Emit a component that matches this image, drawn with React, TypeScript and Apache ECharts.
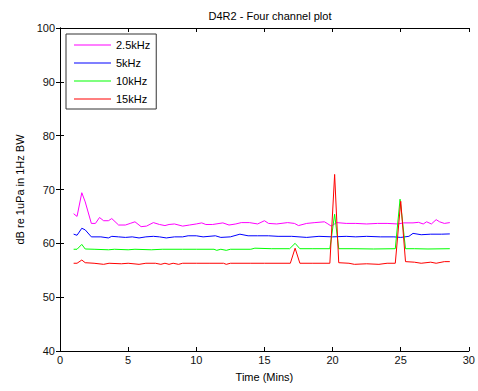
import React, { useEffect, useRef } from "react";
import * as echarts from "echarts";

const titleText = "D4R2 - Four channel plot";
const xName = "Time (Mins)";
const yName = "dB re 1uPa in 1Hz BW";
const seriesNames = ["2.5kHz", "5kHz", "10kHz", "15kHz"];
const seriesColors = ["#ff00ff", "#0000ff", "#00ff00", "#ff0000"];

const ch2_5k: [number, number][] = [
  [1.0, 65.5], [1.25, 65.0], [1.6, 69.4], [1.85, 67.7], [2.3, 63.7], [2.6, 63.7], [2.9, 64.8], [3.2, 64.2],
  [3.55, 64.2], [3.8, 64.6], [4.3, 63.4], [4.8, 63.4], [5.15, 63.7], [5.5, 64.0], [5.95, 63.1], [6.35, 63.2],
  [6.85, 63.85], [7.3, 63.5], [7.7, 63.3], [8.0, 63.5], [8.4, 63.6], [9.0, 63.2], [9.5, 63.4], [10.0, 63.6],
  [10.4, 63.8], [10.7, 63.5], [11.2, 63.5], [11.95, 63.8], [12.4, 63.4], [12.9, 63.6], [13.3, 63.85], [13.9, 63.85],
  [14.5, 63.6], [15.0, 64.2], [15.3, 63.7], [15.9, 63.6], [16.7, 63.85], [17.2, 63.7], [17.5, 63.3], [18.1, 63.7],
  [18.7, 63.85], [19.4, 64.0], [19.6, 63.7], [19.9, 63.2], [20.3, 63.85], [21.0, 63.7], [21.7, 63.7], [22.5, 63.6],
  [23.3, 63.7], [24.0, 63.7], [24.8, 63.6], [25.2, 63.8], [25.9, 63.8], [26.3, 63.9], [26.65, 63.6], [26.9, 64.0],
  [27.25, 63.6], [27.6, 64.4], [27.85, 64.0], [28.2, 63.7], [28.6, 63.85],
];

const ch5k: [number, number][] = [
  [1.0, 61.7], [1.25, 61.5], [1.6, 62.8], [1.85, 62.5], [2.3, 61.2], [3.0, 61.2], [3.55, 61.0], [3.8, 61.3],
  [4.3, 61.2], [4.8, 61.1], [5.3, 61.2], [5.8, 61.0], [6.3, 61.2], [6.85, 61.3], [7.3, 61.2], [7.8, 61.0],
  [8.4, 61.2], [9.0, 61.2], [9.4, 61.4], [10.0, 61.4], [10.5, 61.2], [11.4, 61.4], [11.8, 61.1], [12.5, 61.2],
  [13.2, 61.7], [13.8, 61.4], [14.5, 61.4], [15.3, 61.4], [16.0, 61.3], [17.0, 61.3], [18.1, 61.1], [19.0, 61.3],
  [20.0, 61.2], [21.0, 61.3], [21.7, 61.2], [22.5, 61.3], [23.5, 61.2], [24.5, 61.2], [25.0, 61.1], [25.6, 61.3],
  [25.9, 61.85], [26.5, 61.6], [27.2, 61.7], [28.0, 61.7], [28.6, 61.75],
];

const ch10k: [number, number][] = [
  [1.0, 58.9], [1.25, 58.9], [1.6, 59.8], [1.85, 58.95], [2.5, 58.9], [3.56, 58.8], [4.0, 58.9], [5.0, 58.8],
  [5.5, 58.9], [6.7, 58.8], [7.5, 58.9], [9.0, 58.9], [10.0, 58.9], [11.3, 58.9], [11.5, 58.7], [11.8, 58.9],
  [12.2, 58.7], [12.5, 58.9], [14.0, 58.9], [14.3, 59.1], [15.5, 59.0], [16.85, 59.0], [17.25, 60.0], [17.6, 59.0],
  [18.5, 59.0], [19.8, 59.0], [20.15, 65.4], [20.45, 59.0], [21.5, 59.0], [23.0, 58.95], [24.6, 59.0], [24.95, 68.2],
  [25.35, 59.0], [26.0, 59.0], [27.0, 58.95], [28.6, 59.0],
];

const ch15k: [number, number][] = [
  [1.0, 56.3], [1.25, 56.3], [1.6, 56.9], [1.85, 56.4], [2.5, 56.3], [3.2, 56.1], [3.6, 56.3], [4.5, 56.2],
  [5.0, 56.3], [5.8, 56.1], [6.3, 56.3], [7.0, 56.3], [7.4, 56.1], [7.7, 56.3], [8.0, 56.1], [8.3, 56.3],
  [8.7, 56.1], [9.0, 56.3], [10.0, 56.3], [11.0, 56.3], [12.0, 56.3], [12.2, 56.1], [12.5, 56.3], [14.0, 56.3],
  [15.0, 56.3], [16.9, 56.3], [17.25, 59.1], [17.6, 56.3], [18.5, 56.3], [19.8, 56.3], [20.15, 72.8], [20.45, 56.4],
  [21.2, 56.3], [21.6, 56.1], [22.5, 56.2], [23.4, 56.1], [24.0, 56.3], [24.6, 56.3], [25.0, 67.8], [25.35, 56.6],
  [26.0, 56.5], [26.5, 56.3], [27.2, 56.5], [27.6, 56.3], [28.2, 56.6], [28.6, 56.6],
];

const seriesData = [ch2_5k, ch5k, ch10k, ch15k];

const FONT = "'Liberation Sans', Arial, Helvetica, sans-serif";

export default function App() {
  const ref = useRef<HTMLDivElement>(null);
  useEffect(() => {
    if (!ref.current) return;
    const chart = echarts.init(ref.current, undefined, { renderer: "svg" });
    const axisLine = { show: true, lineStyle: { color: "#000", width: 1 } };
    const axisTick = { show: true, inside: true, length: 4, lineStyle: { color: "#000", width: 1 } };
    const labelStyle = { color: "#111", fontSize: 11, fontFamily: FONT };
    chart.setOption({
      animation: false,
      backgroundColor: "#fff",
      title: {
        text: titleText,
        left: 265,
        textAlign: "center",
        top: 5,
        textStyle: { fontSize: 11, fontWeight: "normal", color: "#000", fontFamily: FONT },
      },
      grid: { left: 60, right: 8, top: 28, bottom: 40, containLabel: false },
      legend: {
        orient: "vertical",
        left: 66,
        top: 34,
        padding: [4, 6, 3, 8],
        itemGap: 4,
        itemWidth: 37,
        itemHeight: 1,
        icon: "rect",
        borderColor: "#333",
        borderWidth: 1,
        backgroundColor: "#fff",
        textStyle: { fontSize: 11, color: "#000", fontFamily: FONT, lineHeight: 14 },
        data: seriesNames,
      },
      xAxis: [
        {
          type: "value",
          min: 0,
          max: 30,
          interval: 5,
          position: "bottom",
          name: xName,
          nameLocation: "middle",
          nameGap: 20,
          nameTextStyle: { fontSize: 11, color: "#000", fontFamily: FONT },
          axisLine,
          axisTick,
          axisLabel: { ...labelStyle, margin: 3 },
          splitLine: { show: false },
        },
        {
          type: "value",
          min: 0,
          max: 30,
          interval: 5,
          position: "top",
          axisLine,
          axisTick,
          axisLabel: { show: false },
          splitLine: { show: false },
        },
      ],
      yAxis: [
        {
          type: "value",
          min: 40,
          max: 100,
          interval: 10,
          position: "left",
          name: yName,
          nameLocation: "middle",
          nameGap: 23,
          nameTextStyle: { fontSize: 11, color: "#000", fontFamily: FONT },
          axisLine,
          axisTick,
          axisLabel: { ...labelStyle, margin: 5 },
          splitLine: { show: false },
        },
        {
          type: "value",
          min: 40,
          max: 100,
          interval: 10,
          position: "right",
          axisLine,
          axisTick,
          axisLabel: { show: false },
          splitLine: { show: false },
        },
      ],
      series: seriesNames.map((name, i) => ({
        name,
        type: "line",
        xAxisIndex: 0,
        yAxisIndex: 0,
        data: seriesData[i],
        showSymbol: false,
        symbol: "none",
        color: seriesColors[i],
        lineStyle: { color: seriesColors[i], width: 1 },
        itemStyle: { color: seriesColors[i] },
      })),
    });
    return () => chart.dispose();
  }, []);
  return (
    <div
      ref={ref}
      style={{ position: "fixed", left: 0, top: 0, width: 478, height: 391, background: "#fff" }}
    />
  );
}
